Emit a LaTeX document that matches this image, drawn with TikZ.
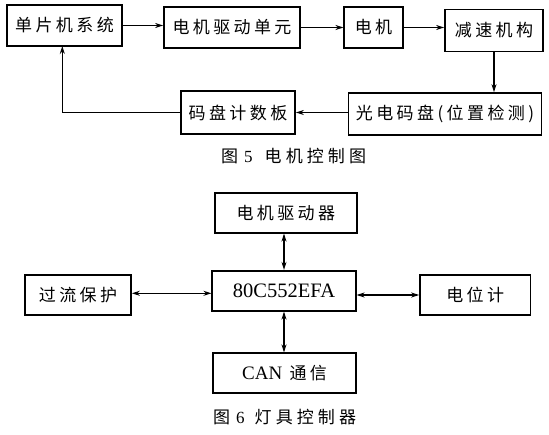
\documentclass[tikz,border=0pt]{standalone}
\usepackage{fontspec}
\setmainfont{Liberation Serif}
\newfontfamily\cjk[LetterSpace=20]{Noto Sans CJK SC}
\newfontfamily\cjkcap[LetterSpace=24]{Noto Sans CJK SC}
\usetikzlibrary{arrows.meta}
\begin{document}
\begin{tikzpicture}[x=1pt,y=-1pt,
  blk/.style={draw, line width=1.7pt, inner sep=0pt, font=\cjk\fontsize{17}{20}\selectfont},
  captxt/.style={inner sep=0pt, anchor=west, font=\cjkcap\fontsize{17}{20}\selectfont},
  conn/.style={line width=1.1pt, -{Stealth[length=8pt,width=5pt]}},
  bconn/.style={line width=1.1pt, {Stealth[length=8pt,width=5pt]}-{Stealth[length=8pt,width=5pt]}}]
\useasboundingbox (0,0) rectangle (549,435);
% Figure 5
\node[blk, minimum width=115.6pt, minimum height=41pt] (A) at (64.5,25.5) {单片机系统};
\node[blk, minimum width=136pt, minimum height=41pt] (B) at (232,27.5) {电机驱动单元};
\node[blk, minimum width=58.4pt, minimum height=41pt] (C) at (373.5,27.5) {电机};
\node[blk, minimum width=98pt, minimum height=42pt] (D) at (494,30.5) {减速机构};
\node[blk, minimum width=193pt, minimum height=42pt] (E) at (445,114) {光电码盘(位置检测)};
\node[blk, minimum width=114pt, minimum height=43pt] (F) at (238,112.5) {码盘计数板};
\coordinate (Fc) at (62.3,112.5);
\coordinate (Ab) at (62.3,46);
\draw[conn] (A.east) -- (A.east -| B.west);
\draw[conn] (B.east) -- (B.east -| C.west);
\draw[conn] (C.east) -- (C.east -| D.west);
\draw[conn] (D.south) -- (D.south |- E.north);
\draw[conn] (F.east -| E.west) -- (F.east);
\draw[conn] (F.west) -- (Fc) -- (Ab);
\node[captxt] (cap5) at (221,156) {图\hspace{6pt}{\rmfamily 5}\hspace{12pt}电机控制图};
% Figure 6
\node[blk, minimum width=142.3pt, minimum height=40pt] (G) at (285.8,212.7) {电机驱动器};
\node[blk, minimum width=143.4pt, minimum height=40pt, font=\rmfamily\fontsize{20.5}{22}\selectfont] (H) at (284,290.7) {80C552EFA};
\node[blk, minimum width=106pt, minimum height=40pt] (I) at (78,295) {过流保护};
\node[blk, minimum width=110.3pt, minimum height=40pt] (J) at (475.2,295) {电位计};
\node[blk, minimum width=143.3pt, minimum height=39.4pt] (K) at (284.6,373) {{\rmfamily\fontsize{19}{20}\selectfont CAN} 通信};
\draw[bconn] (H.north) -- (H.north |- G.south);
\draw[bconn] (H.south) -- (H.south |- K.north);
\draw[bconn] ([yshift=1.7pt]I.east) -- ([yshift=1.7pt]I.east -| H.west);
\draw[bconn] (J.west -| H.east) -- (J.west);
\node[captxt] (cap6) at (213,417) {图\hspace{6pt}{\rmfamily 6}\hspace{10pt}灯具控制器};
\end{tikzpicture}
\end{document}
